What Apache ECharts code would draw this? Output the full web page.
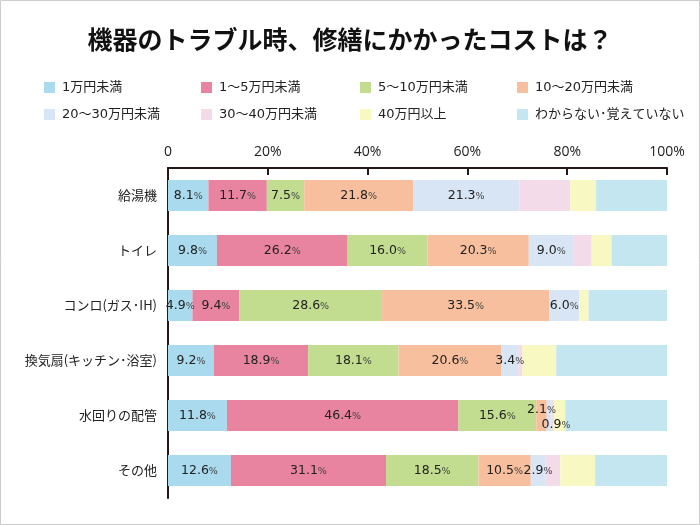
<!DOCTYPE html>
<html>
<head>
<meta charset="utf-8">
<script src="https://cdn.jsdelivr.net/npm/echarts@6/dist/echarts.min.js"></script>
<style>
html,body{margin:0;padding:0;background:#fff;}
#c{width:700px;height:525px;}
</style>
</head>
<body>
<div id="c"></div>
<script>
var categories = ['給湯機', 'トイレ', 'コンロ(ガス･IH)', '換気扇(キッチン･浴室)', '水回りの配管', 'その他'];
var seriesNames = ['1万円未満', '1～5万円未満', '5～10万円未満', '10～20万円未満', '20～30万円未満', '30～40万円未満', '40万円以上', 'わからない･覚えていない'];
var under1 = [8.1, 9.8, 4.9, 9.2, 11.8, 12.6];
var from1to5 = [11.7, 26.2, 9.4, 18.9, 46.4, 31.1];
var from5to10 = [7.5, 16.0, 28.6, 18.1, 15.6, 18.5];
var from10to20 = [21.8, 20.3, 33.5, 20.6, 2.1, 10.5];
var from20to30 = [21.3, 9.0, 6.0, 3.4, 0.9, 2.9];
var from30to40 = [10.2, 3.6, 0.0, 0.8, 0.5, 3.0];
var over40 = [5.2, 4.0, 1.9, 6.8, 2.3, 7.0];
var unknown = [14.2, 11.1, 15.7, 22.2, 20.4, 14.4];
var xTicks = [0, 20, 40, 60, 80, 100];

var values = [under1, from1to5, from5to10, from10to20, from20to30, from30to40, over40, unknown];
var colors = ['#a9daee', '#e8849f', '#c2dd8f', '#f7bf9e', '#d7e5f4', '#f3dbea', '#f8f8c2', '#c4e6f0'];
var labeled = [true, true, true, true, true, false, false, false];
// label nudges for the crowded row (水回りの配管)
var nudges = {'3_4': [0, -6], '4_4': [7, 9]};

var chart = echarts.init(document.getElementById('c'), null, {renderer: 'canvas'});
var font = '"Noto Sans CJK JP", "Noto Sans", sans-serif';
var legendFont = '"DejaVu Sans", "Noto Sans CJK JP", sans-serif';
var numFont = '"DejaVu Sans", "Liberation Sans", sans-serif';

var series = values.map(function (arr, si) {
  return {
    name: seriesNames[si],
    type: 'bar',
    stack: 'total',
    barWidth: 31,
    itemStyle: {color: colors[si]},
    emphasis: {disabled: true},
    label: {
      show: labeled[si],
      position: 'inside',
      color: '#222',
      formatter: function (p) {
        return '{n|' + p.value.toFixed(1) + '}{p|%}';
      },
      rich: {
        n: {fontSize: 12.5, color: '#222', fontFamily: numFont},
        p: {fontSize: 9.5, color: '#444', fontFamily: numFont, padding: [2, 0, 0, 0]}
      }
    },
    data: arr.map(function (v, ci) {
      var key = si + '_' + ci;
      if (nudges[key]) {
        return {value: v, label: {offset: nudges[key]}};
      }
      return v;
    })
  };
});

var legendLeft = [39, 196, 355, 512];
var legends = seriesNames.map(function (n, i) {
  return {
    data: [n],
    left: legendLeft[i % 4],
    top: i < 4 ? 76 : 103,
    itemWidth: 11,
    itemHeight: 11,
    icon: 'rect',
    selectedMode: false,
    textStyle: {fontSize: 13, color: '#222', fontFamily: legendFont, padding: [0, 0, 0, 2]}
  };
});

chart.setOption({
  animation: false,
  backgroundColor: '#fff',
  title: {
    text: '機器のトラブル時、修繕にかかったコストは？',
    left: 'center',
    top: 22,
    textStyle: {fontSize: 25, fontWeight: 'bold', color: '#111', fontFamily: font}
  },
  legend: legends,
  grid: {left: 168, right: 33, top: 168, bottom: 27, containLabel: false},
  xAxis: {
    type: 'value',
    position: 'top',
    min: 0,
    max: 100,
    interval: 20,
    axisLine: {show: true, lineStyle: {color: '#231815', width: 2}},
    axisTick: {show: true, inside: true, length: 7, lineStyle: {color: '#231815', width: 2}},
    splitLine: {show: false},
    axisLabel: {
      margin: 9,
      fontSize: 14,
      color: '#222',
      fontFamily: '"Open Sans", "Noto Sans", sans-serif',
      customValues: xTicks,
      formatter: function (v) { return v === 0 ? '0' : v + '%'; }
    }
  },
  yAxis: {
    type: 'category',
    inverse: true,
    data: categories,
    axisLine: {show: true, lineStyle: {color: '#231815', width: 2}},
    axisTick: {show: false},
    axisLabel: {margin: 11, fontSize: 13, color: '#222', fontFamily: font}
  },
  series: series,
  graphic: [{
    type: 'rect',
    shape: {x: 0.5, y: 0.5, width: 699, height: 524},
    style: {fill: 'none', stroke: '#cccccc', lineWidth: 1},
    silent: true
  }]
});
</script>
</body>
</html>
